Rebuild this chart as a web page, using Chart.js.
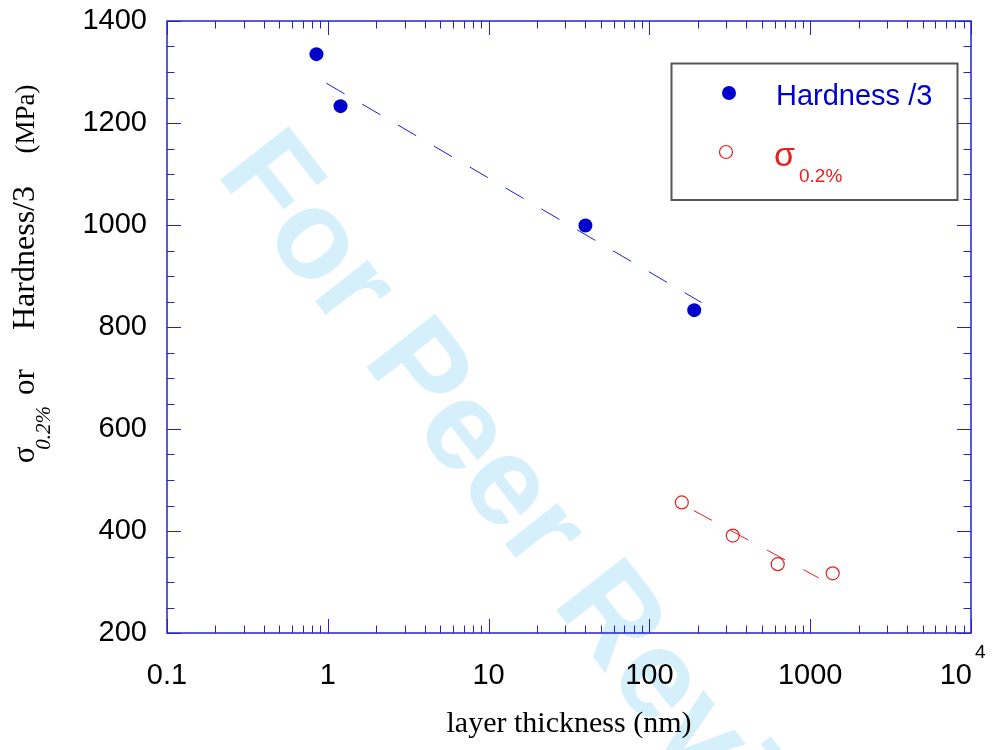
<!DOCTYPE html>
<html>
<head>
<meta charset="utf-8">
<script src="https://cdn.jsdelivr.net/npm/chart.js@4.4.1/dist/chart.umd.min.js"></script>
<style>
body { margin: 0; background: #fff; }
#caja { width: 997px; height: 750px; position: relative; }
</style>
</head>
<body>
<div id="caja"><canvas id="grafico"></canvas></div>
<script>
// Datos
const espesorDureza = [0.85, 1.2, 40, 190];
const dureza = [1335, 1233, 999, 833];
const espesorSigma = [159, 330, 628, 1380];
const sigma = [456, 391, 335, 317];
// Rectas de ajuste (extremos)
const ajusteDurezaX = [0.98, 211];
const ajusteDurezaY = [1278, 848];
const ajusteSigmaX = [189, 1129];
const ajusteSigmaY = [440, 308];
// Ejes
const ticksX = [0.1, 1, 10, 100, 1000, 10000];
const etiquetasX = ['0.1', '1', '10', '100', '1000', ''];
const ticksY = [200, 400, 600, 800, 1000, 1200, 1400];

const azul = '#0000cc';
const rojo = '#e81e1e';
const ejeColor = '#2222d4';
const sans = "'Liberation Sans', Arial, Helvetica, sans-serif";
const serif = "'Liberation Serif', 'Times New Roman', serif";

function puntos(xs, ys) {
    return xs.map((x, i) => ({ x: x, y: ys[i] }));
}

// Marca de agua detras de todo
const marcaAgua = {
    id: 'marcaAgua',
    beforeDraw(chart) {
        const ctx = chart.ctx;
        ctx.save();
        ctx.translate(215, 173);
        ctx.rotate(52 * Math.PI / 180);
        ctx.font = 'bold 126px ' + sans;
        ctx.fillStyle = '#d5effb';
        ctx.textBaseline = 'alphabetic';
        ctx.fillText('For Peer Review', 0, 0);
        ctx.restore();
    }
};

// Marco, ticks hacia dentro, titulos y leyenda
const marco = {
    id: 'marco',
    afterDraw(chart) {
        const ctx = chart.ctx;
        const a = chart.chartArea;
        const sx = chart.scales.x;
        const sy = chart.scales.y;
        ctx.save();
        ctx.strokeStyle = ejeColor;
        ctx.lineWidth = 1.5;
        ctx.strokeRect(a.left, a.top, a.right - a.left, a.bottom - a.top);

        ctx.lineWidth = 1;
        ctx.beginPath();
        for (let e = -1; e <= 4; e++) {
            for (let k = 1; k <= 9; k++) {
                if (e === 4 && k > 1) break;
                const v = k * Math.pow(10, e);
                const px = Math.round(sx.getPixelForValue(v)) + 0.5;
                const largo = k === 1 ? 14 : 7.5;
                ctx.moveTo(px, a.bottom); ctx.lineTo(px, a.bottom - largo);
                ctx.moveTo(px, a.top); ctx.lineTo(px, a.top + largo);
            }
        }
        for (let v = 200; v <= 1400; v += 50) {
            const py = Math.round(sy.getPixelForValue(v)) + 0.5;
            const largo = (v - 200) % 200 === 0 ? 14 : 7.5;
            ctx.moveTo(a.left, py); ctx.lineTo(a.left + largo, py);
            ctx.moveTo(a.right, py); ctx.lineTo(a.right - largo, py);
        }
        ctx.stroke();

        // etiqueta 10^4
        const p4 = sx.getPixelForValue(10000);
        ctx.fillStyle = '#000';
        ctx.font = '29px ' + sans;
        ctx.textAlign = 'right';
        ctx.textBaseline = 'middle';
        ctx.fillText('10', p4 + 1, 676);
        ctx.font = '19px ' + sans;
        ctx.textAlign = 'left';
        ctx.textBaseline = 'alphabetic';
        ctx.fillText('4', p4 + 4, 658);

        // titulo eje x
        ctx.font = '30px ' + serif;
        ctx.textAlign = 'center';
        ctx.fillText('layer thickness (nm)', (a.left + a.right) / 2, 732);

        // titulo eje y (girado)
        ctx.save();
        ctx.translate(34, 0);
        ctx.rotate(-Math.PI / 2);
        ctx.textAlign = 'center';
        ctx.font = '31px ' + serif;
        ctx.fillText('\u03c3', -455, 0);
        ctx.fillText('or', -382, 0);
        ctx.font = '32px ' + serif;
        ctx.fillText('Hardness/3', -258, 0);
        ctx.font = '27px ' + serif;
        ctx.fillText('(MPa)', -119, 0);
        ctx.font = 'italic 21px ' + serif;
        ctx.fillText('0.2%', -428, 16);
        ctx.restore();

        // leyenda
        ctx.strokeStyle = '#555';
        ctx.lineWidth = 2;
        ctx.strokeRect(671.5, 63.5, 286, 136.5);
        ctx.fillStyle = azul;
        ctx.beginPath();
        ctx.arc(729, 93, 7, 0, Math.PI * 2);
        ctx.fill();
        ctx.font = '29px ' + sans;
        ctx.textAlign = 'left';
        ctx.fillText('Hardness /3', 776, 105);
        ctx.strokeStyle = rojo;
        ctx.lineWidth = 1.2;
        ctx.beginPath();
        ctx.arc(726, 152, 6.5, 0, Math.PI * 2);
        ctx.stroke();
        ctx.fillStyle = rojo;
        ctx.font = '34px ' + sans;
        ctx.fillText('\u03c3', 774, 166);
        ctx.font = '19px ' + sans;
        ctx.fillText('0.2%', 799, 182);
        ctx.restore();
    }
};

const datos = {
    datasets: [
        {
            label: 'Hardness /3',
            data: puntos(espesorDureza, dureza),
            pointRadius: 7,
            pointBackgroundColor: azul,
            pointBorderWidth: 0,
            showLine: false
        },
        {
            label: 'sigma 0.2%',
            data: puntos(espesorSigma, sigma),
            pointRadius: 6.5,
            pointBackgroundColor: 'rgba(0,0,0,0)',
            pointBorderColor: rojo,
            pointBorderWidth: 1.2,
            showLine: false
        },
        {
            label: 'ajuste dureza',
            data: puntos(ajusteDurezaX, ajusteDurezaY),
            showLine: true,
            pointRadius: 0,
            borderColor: '#1c1cdc',
            borderWidth: 1,
            borderDash: [21, 20.5]
        },
        {
            label: 'ajuste sigma',
            data: puntos(ajusteSigmaX, ajusteSigmaY),
            showLine: true,
            pointRadius: 0,
            borderColor: rojo,
            borderWidth: 1,
            borderDash: [20.5, 21]
        }
    ]
};

const config = {
    type: 'scatter',
    data: datos,
    options: {
        responsive: true,
        maintainAspectRatio: false,
        animation: false,
        events: [],
        layout: { padding: { left: 0, right: 26, top: 21, bottom: 0 } },
        plugins: {
            legend: { display: false },
            tooltip: { enabled: false }
        },
        scales: {
            x: {
                type: 'logarithmic',
                min: 0.1,
                max: 10000,
                grid: { display: false, drawTicks: false },
                border: { display: false },
                afterBuildTicks: (scale) => {
                    scale.ticks = ticksX.map(v => ({ value: v }));
                },
                afterFit: (scale) => { scale.height = 117; },
                ticks: {
                    autoSkip: false,
                    maxRotation: 0,
                    padding: 26,
                    color: '#000',
                    font: { family: sans, size: 29 },
                    callback: (valor, i) => etiquetasX[i]
                }
            },
            y: {
                min: 200,
                max: 1400,
                grid: { display: false, drawTicks: false },
                border: { display: false },
                afterBuildTicks: (scale) => {
                    scale.ticks = ticksY.map(v => ({ value: v }));
                },
                afterFit: (scale) => { scale.width = 167; },
                ticks: {
                    padding: 20,
                    color: '#000',
                    // lineHeight minimo: el margen superior lo pone el padding del layout
                    font: { family: sans, size: 29, lineHeight: 0.02 },
                    callback: (valor) => String(valor)
                }
            }
        }
    },
    plugins: [marcaAgua, marco]
};

const migrafico = document.getElementById('grafico');
new Chart(migrafico, config);
</script>
</body>
</html>
